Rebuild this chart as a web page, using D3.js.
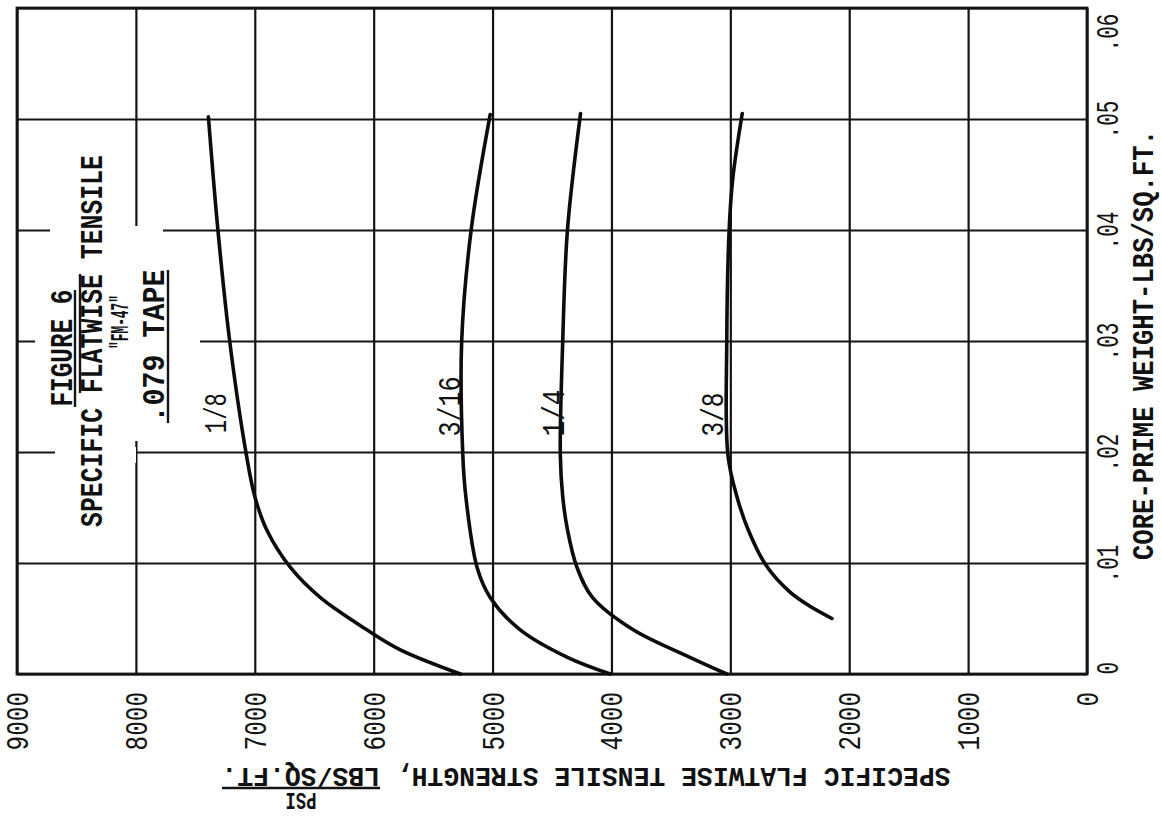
<!DOCTYPE html>
<html>
<head>
<meta charset="utf-8">
<script src="https://cdn.jsdelivr.net/npm/d3@7"></script>
<style>
  html, body { margin: 0; padding: 0; background: #fff; }
  svg { display: block; }
  text { font-family: "Liberation Mono", "Courier New", monospace; fill: #111; }
</style>
</head>
<body>
<script>
// Specific flatwise tensile strength vs. core-prime weight, FM-47 / .079 tape.
// The sheet is drawn turned a quarter turn: weight runs up the page, strength runs right-to-left.

// ---- data -------------------------------------------------------------
const psiTicks = [0, 1000, 2000, 3000, 4000, 5000, 6000, 7000, 8000, 9000];
const psiTickLabels = ["0", "1000", "2000", "3000", "4000", "5000", "6000", "7000", "8000", "9000"];
const weightTicks = [0, 0.01, 0.02, 0.03, 0.04, 0.05, 0.06];
const weightTickLabels = ["0", ".01", ".02", ".03", ".04", ".05", ".06"];

const seriesNames = ["1/8", "3/16", "1/4", "3/8"];

const weight18 = [0, 0.0022, 0.0040, 0.0069, 0.0096, 0.0130, 0.0160, 0.0197, 0.0299, 0.0400, 0.0502];
const psi18    = [5270, 5780, 6060, 6450, 6700, 6900, 7000, 7070, 7210, 7310, 7390];

const weight316 = [0, 0.0015, 0.0040, 0.0069, 0.0096, 0.0160, 0.0197, 0.0299, 0.0400, 0.0504];
const psi316    = [4010, 4370, 4770, 5020, 5130, 5225, 5250, 5260, 5180, 5020];

const weight14 = [0, 0.0015, 0.0040, 0.0069, 0.0096, 0.0130, 0.0160, 0.0197, 0.0299, 0.0400, 0.0505];
const psi14    = [3030, 3340, 3820, 4160, 4290, 4370, 4410, 4430, 4410, 4370, 4260];

const weight38 = [0.0050, 0.0061, 0.0074, 0.0098, 0.0130, 0.0160, 0.0197, 0.0299, 0.0400, 0.0446, 0.0505];
const psi38    = [2145, 2330, 2500, 2700, 2850, 2945, 3020, 3030, 3010, 2980, 2900];

// where each curve's size label sits (weight at label start, strength at its baseline)
const labelWeight = [0.0217, 0.0214, 0.0214, 0.0214];
const labelPsi    = [7240, 5270, 4400, 3060];

const titleLines = ["FIGURE 6", "SPECIFIC FLATWISE TENSILE", "\"FM-47\"", ".079 TAPE"];
const xTitle = "CORE-PRIME WEIGHT-LBS/SQ.FT.";
const yTitle = "SPECIFIC FLATWISE TENSILE STRENGTH, LBS/SQ.FT.";
const yUnit = "PSI";

// ---- layout -------------------------------------------------------------
const W = 1162, H = 837;
const plotLeft = 17, plotRight = 1087, plotTop = 8, plotBottom = 674;

const wScale = d3.scaleLinear().domain([0, 0.06]).range([plotBottom, plotTop]);   // weight -> vertical
const pScale = d3.scaleLinear().domain([0, 9000]).range([plotRight, plotLeft]);   // strength -> horizontal

const ink = "#141414";

const svg = d3.select("body").append("svg")
  .attr("width", W).attr("height", H)
  .attr("viewBox", `0 0 ${W} ${H}`);

svg.append("rect").attr("width", W).attr("height", H).attr("fill", "#fff");

// ---- grid + tick labels via axes -----------------------------------------
const psiAxis = d3.axisBottom(pScale)
  .tickValues(psiTicks)
  .tickFormat((d, i) => psiTickLabels[i])
  .tickSize(-(plotBottom - plotTop))
  .tickSizeOuter(0);

const gP = svg.append("g").attr("transform", `translate(0,${plotBottom})`).call(psiAxis);
gP.select(".domain").remove();
gP.selectAll(".tick line").attr("stroke", ink).attr("stroke-width", 2.2);
gP.selectAll(".tick text")
  .attr("x", 0).attr("y", 0).attr("dy", "0.34em")
  .attr("transform", "translate(0,18) rotate(-90)")
  .attr("text-anchor", "end")
  .attr("font-size", 31)
  .attr("textLength", (d, i) => psiTickLabels[i].length * 14.6)
  .attr("lengthAdjust", "spacingAndGlyphs")
  .style("fill", ink);

const wAxis = d3.axisRight(wScale)
  .tickValues(weightTicks)
  .tickFormat((d, i) => weightTickLabels[i])
  .tickSize(-(plotRight - plotLeft))
  .tickSizeOuter(0);

// end labels sit just inside the frame; the rest are centred on their rules
const last = weightTicks.length - 1;
const gW = svg.append("g").attr("transform", `translate(${plotRight},0)`).call(wAxis);
gW.select(".domain").remove();
gW.selectAll(".tick line").attr("stroke", ink).attr("stroke-width", 2.2);
gW.selectAll(".tick text")
  .attr("x", 0).attr("y", 0).attr("dy", 0)
  .attr("transform", (d, i) => `translate(31,${i === last ? 24 : 0}) rotate(-90)`)
  .attr("text-anchor", (d, i) => i === 0 ? "start" : "middle")
  .attr("font-size", 31)
  .attr("textLength", (d, i) => weightTickLabels[i].length * 12.6)
  .attr("lengthAdjust", "spacingAndGlyphs")
  .style("fill", ink);

// frame
svg.append("rect")
  .attr("x", plotLeft).attr("y", plotTop)
  .attr("width", plotRight - plotLeft).attr("height", plotBottom - plotTop)
  .attr("fill", "none").attr("stroke", ink).attr("stroke-width", 2.8);

// ---- title block (typed on a blank patch of the grid) ---------------------
const blank = svg.append("g").attr("fill", "#fff");
blank.append("rect").attr("x", 50).attr("y", 226).attr("width", 113).attr("height", 215);
blank.append("rect").attr("x", 35).attr("y", 334).attr("width", 165).attr("height", 16);
blank.append("rect").attr("x", 55).attr("y", 447).attr("width", 81).attr("height", 16);

const title = svg.append("g").attr("font-weight", "bold");
const titleSpec = [
  { bx: 72,  cy: 348, len: 117, fs: 32 },
  { bx: 102, cy: 341, len: 372, fs: 32 },
  { bx: 128, cy: 322, len: 54,  fs: 25 },
  { bx: 164, cy: 346, len: 153, fs: 32 }
];
titleLines.forEach((t, i) => {
  const s = titleSpec[i];
  title.append("text")
    .attr("transform", `translate(${s.bx},${s.cy}) rotate(-90)`)
    .attr("text-anchor", "middle")
    .attr("font-size", s.fs)
    .attr("textLength", s.len)
    .attr("lengthAdjust", "spacingAndGlyphs")
    .text(t);
});
// underline "FIGURE 6", rule over "FLATWISE", underline ".079 TAPE"
const rules = svg.append("g").attr("stroke", ink).attr("stroke-width", 2.4);
rules.append("line").attr("x1", 75).attr("x2", 75).attr("y1", 290).attr("y2", 407);
{
  const s = titleSpec[1], per = s.len / titleLines[1].length, y0 = s.cy + s.len / 2;
  const a = titleLines[1].indexOf("FLATWISE");
  rules.append("line").attr("x1", 80).attr("x2", 80)
    .attr("y1", y0 - a * per).attr("y2", y0 - (a + 8) * per);
}
rules.append("line").attr("x1", 168).attr("x2", 168).attr("y1", 270).attr("y2", 423);

// ---- curves ----------------------------------------------------------------
const line = d3.line()
  .x(d => pScale(d[1]))
  .y(d => wScale(d[0]))
  .curve(d3.curveCatmullRom.alpha(0.5));

const curves = [
  d3.zip(weight18, psi18),
  d3.zip(weight316, psi316),
  d3.zip(weight14, psi14),
  d3.zip(weight38, psi38)
];

svg.append("g").selectAll("path").data(curves).join("path")
  .attr("d", line)
  .attr("fill", "none")
  .attr("stroke", "#0c0c0c")
  .attr("stroke-width", 3.6)
  .attr("stroke-linecap", "round")
  .attr("stroke-linejoin", "round");

// curve size labels
const labelLen = [40, 60, 47, 44];
svg.append("g").selectAll("text").data(seriesNames).join("text")
  .attr("transform", (d, i) => `translate(${pScale(labelPsi[i])},${wScale(labelWeight[i])}) rotate(-90)`)
  .attr("text-anchor", "start")
  .attr("font-size", 31)
  .attr("textLength", (d, i) => labelLen[i])
  .attr("lengthAdjust", "spacingAndGlyphs")
  .text(d => d);

// ---- axis titles -------------------------------------------------------------
svg.append("text")
  .attr("transform", `translate(1153,345) rotate(-90)`)
  .attr("text-anchor", "middle")
  .attr("font-weight", "bold")
  .attr("font-size", 29)
  .attr("textLength", 430)
  .attr("lengthAdjust", "spacingAndGlyphs")
  .text(xTitle);

const yT = svg.append("g").attr("font-weight", "bold");
yT.append("text")
  .attr("transform", `translate(586,768) rotate(180)`)
  .attr("text-anchor", "middle")
  .attr("font-size", 27)
  .attr("textLength", 729)
  .attr("lengthAdjust", "spacingAndGlyphs")
  .text(yTitle);
yT.append("line")
  .attr("x1", 222).attr("x2", 380).attr("y1", 788).attr("y2", 788)
  .attr("stroke", ink).attr("stroke-width", 2.4);
yT.append("text")
  .attr("transform", `translate(301,793) rotate(180)`)
  .attr("text-anchor", "middle")
  .attr("font-size", 23)
  .attr("textLength", 31)
  .attr("lengthAdjust", "spacingAndGlyphs")
  .text(yUnit);
</script>
</body>
</html>
